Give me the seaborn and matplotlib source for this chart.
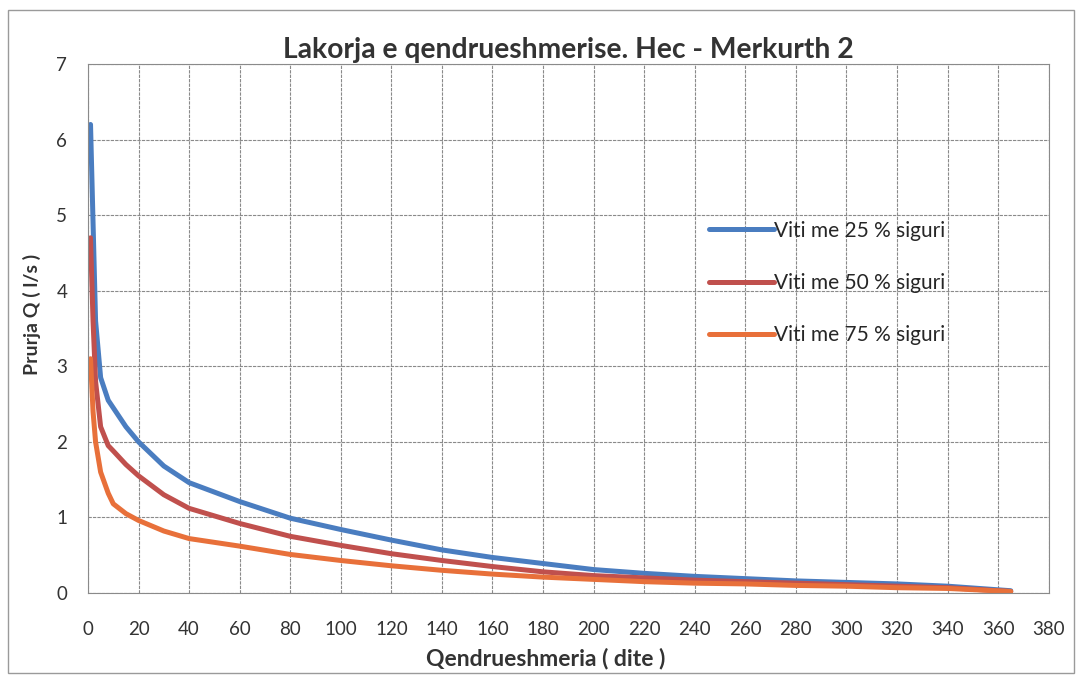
import numpy as np
import pandas as pd
import seaborn as sns
import matplotlib.pyplot as plt
from matplotlib.patches import Rectangle

# duration curve readings (days vs discharge l/s)
days = [1, 2, 3, 5, 8, 10, 15, 20, 30, 40, 60, 80, 100, 120, 140, 160,
        180, 200, 220, 240, 260, 280, 300, 320, 340, 365]
q_25 = [6.2, 4.9, 3.6, 2.85, 2.55, 2.45, 2.2, 2.0, 1.68, 1.46, 1.21, 0.99, 0.84,
        0.70, 0.57, 0.47, 0.39, 0.31, 0.26, 0.22, 0.19, 0.16, 0.14, 0.12, 0.09, 0.03]
q_50 = [4.7, 3.6, 2.8, 2.2, 1.95, 1.88, 1.7, 1.55, 1.3, 1.12, 0.92, 0.75, 0.63,
        0.52, 0.43, 0.35, 0.28, 0.23, 0.20, 0.17, 0.15, 0.13, 0.11, 0.09, 0.07, 0.02]
q_75 = [3.1, 2.4, 2.0, 1.6, 1.32, 1.18, 1.05, 0.96, 0.82, 0.72, 0.62, 0.51, 0.43,
        0.36, 0.30, 0.25, 0.21, 0.18, 0.15, 0.13, 0.12, 0.10, 0.09, 0.07, 0.06, 0.02]
labels = ["Viti me 25 % siguri", "Viti me 50 % siguri", "Viti me 75 % siguri"]
colors = ["#4a7dc0", "#c0504d", "#e8703a"]

df = pd.concat([
    pd.DataFrame({"dite": days, "Q": q, "seria": lab})
    for q, lab in zip([q_25, q_50, q_75], labels)
])

sns.set_style("white")
plt.rcParams['font.family'] = ['Lato', 'DejaVu Sans']

fig = plt.figure(figsize=(10.77, 6.76), dpi=100)
ax = fig.add_axes([0.0817, 0.1228, 0.892, 0.7825])

sns.lineplot(data=df, x="dite", y="Q", hue="seria", palette=colors,
             linewidth=3.6, ax=ax, legend=True)

ax.set_xlim(0, 380)
ax.set_ylim(0, 7)
ax.set_xticks(np.arange(0, 381, 20))
ax.set_yticks(np.arange(0, 8, 1))
ax.grid(True, color="#8a8a8a", linestyle=(0, (3, 1)), linewidth=0.8)
ax.set_axisbelow(True)
for s in ax.spines.values():
    s.set_color("#8a8a8a")
    s.set_linewidth(0.8)
ax.tick_params(axis="both", labelsize=13.5, colors="#8a8a8a", labelcolor="#333333",
               length=5, width=0.8)
ax.tick_params(axis="x", pad=15)
ax.tick_params(axis="y", pad=10)

ax.set_xlabel("Qendrueshmeria ( dite )", fontsize=16.5, fontweight="bold", color="#333333")
ax.set_ylabel("Prurja Q ( l/s )", fontsize=14, fontweight="bold", color="#333333")
ax.xaxis.set_label_coords(0.476, -0.103)
ax.yaxis.set_label_coords(-0.049, 0.526)
ax.set_title("Lakorja e qendrueshmerise. Hec - Merkurth 2", fontsize=20.3,
             fontweight="bold", color="#333333", pad=4)

ax.legend(loc="upper left", bbox_to_anchor=(0.649, 0.689), bbox_transform=fig.transFigure,
          frameon=False, fontsize=15, handlelength=3.1, handletextpad=0.0,
          labelspacing=1.55, borderpad=0, title=None)

fig.patches.append(Rectangle((0.0074, 0.0044), 0.99, 0.981, transform=fig.transFigure,
                             fill=False, edgecolor="#9a9a9a", linewidth=1))

plt.savefig("out.png", dpi=100)
